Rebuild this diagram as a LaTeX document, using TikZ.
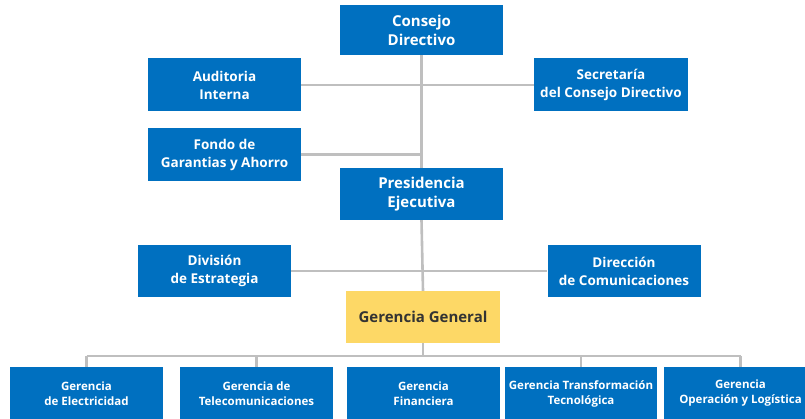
\documentclass[tikz,border=0pt]{standalone}
\usepackage{fontspec}
\setmainfont{Open Sans}
\definecolor{azul}{HTML}{0070C0}
\definecolor{amarillo}{HTML}{FDD866}
\definecolor{gris}{HTML}{BFBFBF}
\begin{document}
\begin{tikzpicture}[x=1pt,y=-1pt,
  unidad/.style={fill=azul, text=white, align=center, inner sep=0pt, minimum width=153pt, minimum height=53pt, font=\bfseries\fontsize{13.5}{18}\selectfont},
  gerencia/.style={unidad, font=\bfseries\fontsize{11.5}{15}\selectfont},
  linea/.style={draw=gris, line width=2.6pt}]
\useasboundingbox (0,0) rectangle (805,419);
\coordinate (bus) at (422,356);
\node[unidad, minimum width=163pt, minimum height=50pt, font=\bfseries\fontsize{15}{19}\selectfont] (1) at (421.5,30) {Consejo\\Directivo};
\node[unidad] (2) at (224.5,85) {Auditoria\\Interna};
\node[unidad, minimum width=154pt] (3) at (611,85) {Secretaría\\del Consejo Directivo};
\node[unidad] (4) at (224.5,154.5) {Fondo de\\Garantias y Ahorro};
\node[unidad, minimum width=163pt, minimum height=52pt, font=\bfseries\fontsize{15}{19}\selectfont] (5) at (421.5,194) {Presidencia\\Ejecutiva};
\node[unidad, minimum height=52pt] (6) at (214.5,271) {División\\de Estrategia};
\node[unidad, minimum height=52pt] (7) at (624,271) {Dirección\\de Comunicaciones};
\node[unidad, fill=amarillo, text=black!80, minimum width=154pt, minimum height=52pt, font=\bfseries\fontsize{15}{19}\selectfont] (8) at (423,317) {Gerencia General};
\node[gerencia] (9) at (86.5,393.5) {Gerencia\\de Electricidad};
\node[gerencia] (10) at (256.5,393.5) {Gerencia de\\Telecomunicaciones};
\node[gerencia] (11) at (423.5,393.5) {Gerencia\\Financiera};
\node[gerencia, minimum width=152pt] (12) at (581,393.5) {Gerencia Transformación\\Tecnológica};
\node[gerencia] (13) at (740.5,393.5) {Gerencia\\Operación y Logística};

\path[linea] (1.south) -- (5.north);
\path[linea] (2.east) -- (3.west);
\path[linea] (4.east) -- (4.east -| 1.south);
\path[linea] (5.south) -- (8.north);
\path[linea] (6.east) -- (7.west);
\path[linea] (8.south) -- (8.south |- bus);
\path[linea] (9.north |- bus) -- (13.north |- bus);
\foreach \i in {9,10,12,13}
  \path[linea] (\i.north) -- (\i.north |- bus);
\end{tikzpicture}
\end{document}
